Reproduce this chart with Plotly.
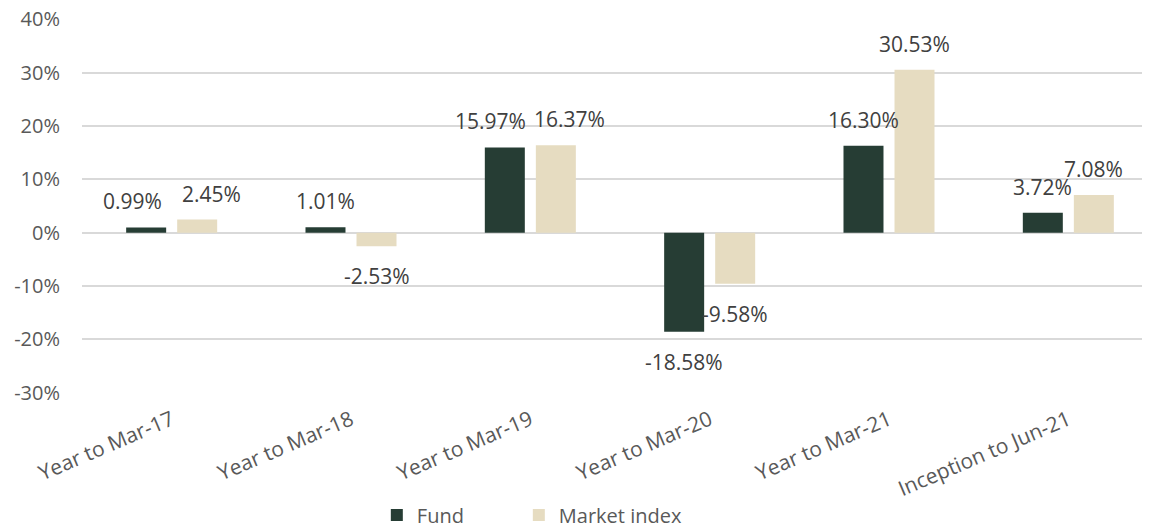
import plotly.graph_objects as go

categories = ["Year to Mar-17", "Year to Mar-18", "Year to Mar-19",
              "Year to Mar-20", "Year to Mar-21", "Inception to Jun-21"]
fund = [0.0099, 0.0101, 0.1597, -0.1858, 0.1630, 0.0372]
market_index = [0.0245, -0.0253, 0.1637, -0.0958, 0.3053, 0.0708]
y_tick_values = [-0.3, -0.2, -0.1, 0.0, 0.1, 0.2, 0.3, 0.4]
y_tick_labels = ["-30%", "-20%", "-10%", "0%", "10%", "20%", "30%", "40%"]

FONT = "Open Sans"
TEXT_GREY = "#595959"
LABEL_GREY = "#404040"

PLOT_H = 374
Y_MIN, Y_MAX = -0.3, 0.4
PX_PER_UNIT = PLOT_H / (Y_MAX - Y_MIN)

fig = go.Figure()
fig.add_trace(go.Bar(
    x=categories, y=fund, name="Fund", legendwidth=97,
    marker=dict(color="#263d34", line=dict(width=0)),
))
fig.add_trace(go.Bar(
    x=categories, y=market_index, name="Market index", legendwidth=140,
    marker=dict(color="#e6dcc1", line=dict(width=0)),
))

# data labels at each bar end; pushed apart sideways only when the pair would collide
BAR_OFFSET = 25.5
for cat, f, m in zip(categories, fund, market_index):
    collide = (f >= 0) == (m >= 0) and abs(f - m) * PX_PER_UNIT < 15
    push = 14 if collide else 0
    for v, xs in ((f, -BAR_OFFSET - push), (m, BAR_OFFSET + push)):
        fig.add_annotation(
            x=cat, y=v, xref="x", yref="y", text=f"{v * 100:.2f}%",
            showarrow=False, xshift=xs,
            yanchor="bottom" if v >= 0 else "top",
            yshift=10 if v >= 0 else -14,
            font=dict(family=FONT, size=21, color=LABEL_GREY),
        )

fig.update_layout(
    width=1150, height=527,
    margin=dict(l=74, r=0, t=11, b=527 - 11 - PLOT_H, autoexpand=False),
    paper_bgcolor="white", plot_bgcolor="white",
    barmode="group", bargap=0.431, bargroupgap=0.216,
    font=dict(family=FONT, size=20, color=TEXT_GREY),
    showlegend=True,
    legend=dict(orientation="h", x=0.274, xanchor="left", y=-0.326, yanchor="middle",
                font=dict(family=FONT, size=20, color=TEXT_GREY),
                traceorder="normal"),
)
fig.update_yaxes(range=[Y_MIN - 0.0004, Y_MAX + 0.0004],
                 tickvals=y_tick_values, ticktext=y_tick_labels,
                 showgrid=True, gridcolor="#d9d9d9", gridwidth=1.5,
                 zeroline=True, zerolinecolor="#d9d9d9", zerolinewidth=1.5,
                 showline=False, ticks="", ticklen=0, automargin=False,
                 ticklabelstandoff=21, ticklabeloverflow="allow",
                 tickfont=dict(family=FONT, size=20, color=TEXT_GREY))
fig.update_xaxes(tickangle=-23, showgrid=False, showline=False, ticks="",
                 automargin=False, ticklabelstandoff=10,
                 tickfont=dict(family=FONT, size=21, color=TEXT_GREY))

fig.write_html("out.html")
